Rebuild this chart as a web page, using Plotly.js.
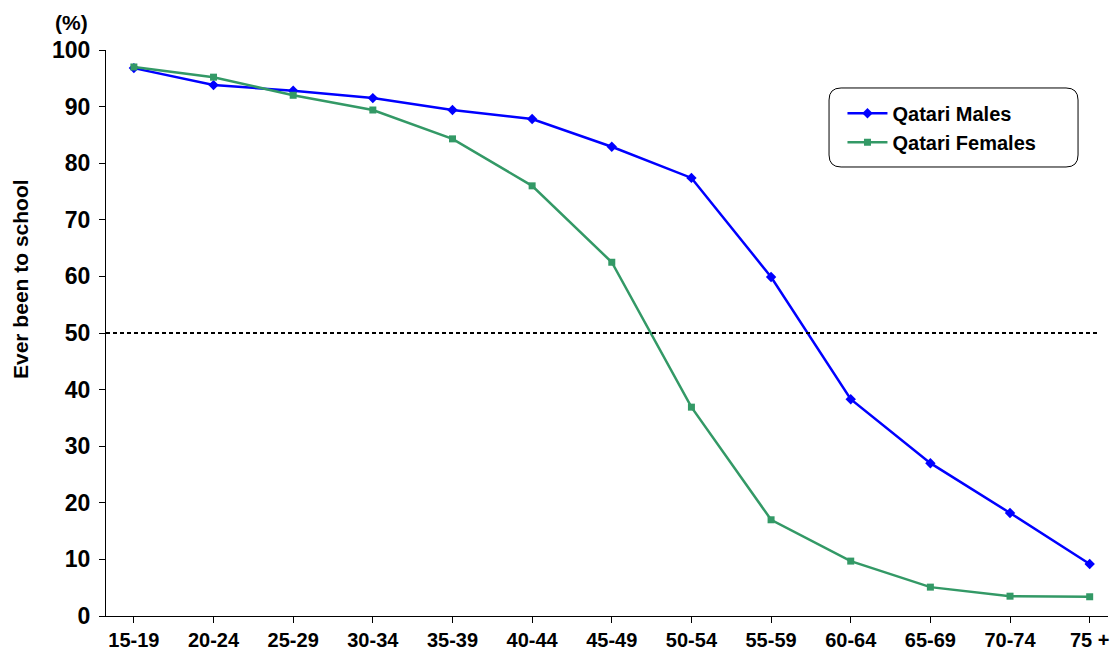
<!DOCTYPE html>
<html>
<head>
<meta charset="utf-8">
<script src="https://cdn.plot.ly/plotly-3.0.1.min.js"></script>
<style>html,body{margin:0;padding:0;background:#fff;}#chart{width:1115px;height:656px;}</style>
</head>
<body>
<div id="chart"></div>
<script>
var ageGroups = ["15-19","20-24","25-29","30-34","35-39","40-44","45-49","50-54","55-59","60-64","65-69","70-74","75 +"];
var qatariMales = [96.8, 93.8, 92.8, 91.5, 89.4, 87.8, 82.9, 77.4, 59.9, 38.3, 27.0, 18.2, 9.2];
var qatariFemales = [97.0, 95.2, 92.0, 89.4, 84.3, 76.0, 62.5, 36.9, 17.0, 9.7, 5.1, 3.5, 3.4];
var referenceLevel = 50;

var fontFam = "Liberation Sans, Arial, Helvetica, sans-serif";
var idx = ageGroups.map(function(_, i){ return i; });

var traces = [
  {x: idx, y: qatariMales, name: "Qatari Males", type: "scatter", mode: "lines+markers",
   line: {color: "#0000FF", width: 2.5}, marker: {symbol: "diamond", size: 8, color: "#0000FF"}},
  {x: idx, y: qatariFemales, name: "Qatari Females", type: "scatter", mode: "lines+markers",
   line: {color: "#339966", width: 2.5}, marker: {symbol: "square", size: 7, color: "#339966"}}
];

var layout = {
  width: 1115, height: 656,
  margin: {l: 106, r: 7, t: 50, b: 40, pad: 0},
  paper_bgcolor: "#fff", plot_bgcolor: "#fff",
  showlegend: true,
  legend: {x: 0.735, y: 0.9226, xanchor: "left", yanchor: "top", bgcolor: "rgba(0,0,0,0)",
           borderwidth: 0, font: {family: fontFam, size: 20, color: "#000", weight: "bold"},
           tracegroupgap: 6, itemwidth: 40},
  xaxis: {range: [-0.35, 12.23], tickmode: "array", tickvals: idx, ticktext: ageGroups,
          showgrid: false, zeroline: false, showline: true, linecolor: "#000", linewidth: 1,
          ticks: "outside", ticklen: 6, tickcolor: "#000",
          tickfont: {family: fontFam, size: 20, color: "#000", weight: "bold"}, fixedrange: true},
  yaxis: {range: [0, 100], tickvals: [0,10,20,30,40,50,60,70,80,90,100],
          showgrid: false, zeroline: false, showline: true, linecolor: "#000", linewidth: 1,
          ticks: "outside", ticklen: 6, tickcolor: "#000", ticklabelstandoff: 4,
          tickfont: {family: fontFam, size: 23, color: "#000", weight: "bold"},
          fixedrange: true},
  shapes: [
    {type: "line", xref: "paper", yref: "y", x0: 0, x1: 0.991, y0: referenceLevel, y1: referenceLevel,
     line: {color: "#000", width: 2, dash: "4px,3px"}},
    {type: "path", xref: "paper", yref: "paper",
     path: "M 0.7336 0.9329 L 0.9581 0.9329 Q 0.9701 0.9329 0.9701 0.9117 L 0.9701 0.8145 Q 0.9701 0.7933 0.9581 0.7933 L 0.7336 0.7933 Q 0.7216 0.7933 0.7216 0.8145 L 0.7216 0.9117 Q 0.7216 0.9329 0.7336 0.9329 Z",
     line: {color: "#000", width: 1}, fillcolor: "rgba(0,0,0,0)"}
  ],
  annotations: [
    {text: "(%)", xref: "paper", yref: "paper", x: (71-106)/1002, y: (616-22)/566,
     xanchor: "center", yanchor: "middle", showarrow: false,
     font: {family: fontFam, size: 21, color: "#000", weight: "bold"}},
    {text: "Ever been to school", xref: "paper", yref: "paper", x: (20-106)/1002, y: (616-279)/566,
     xanchor: "center", yanchor: "middle", showarrow: false, textangle: -90,
     font: {family: fontFam, size: 21, color: "#000", weight: "bold"}}
  ]
};

Plotly.newPlot("chart", traces, layout, {displayModeBar: false, staticPlot: true});
</script>
</body>
</html>
